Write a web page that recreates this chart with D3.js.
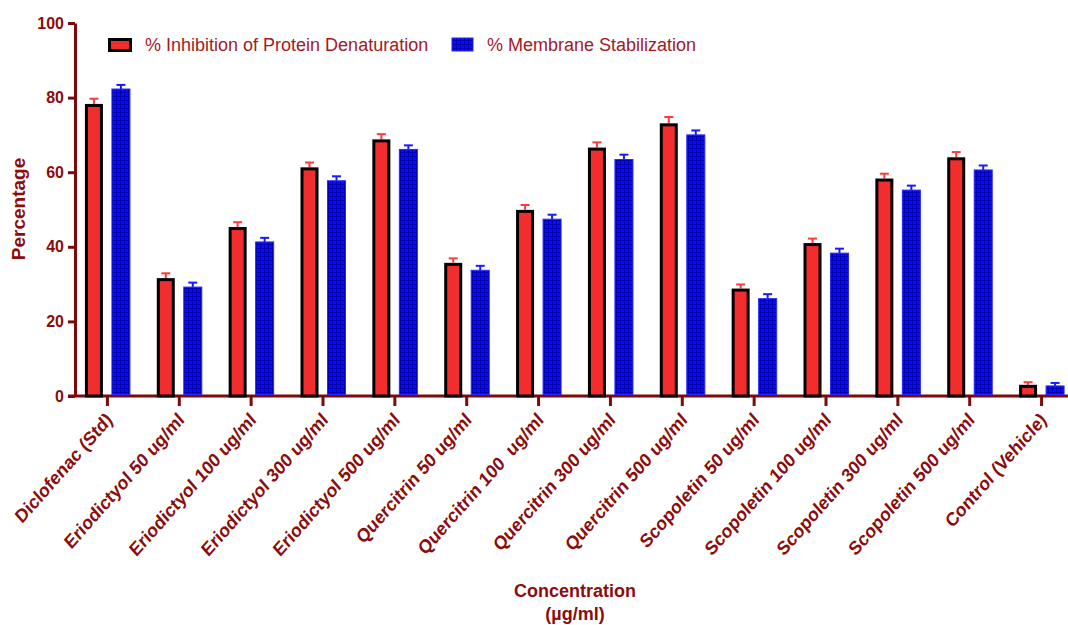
<!DOCTYPE html>
<html>
<head>
  <title>Protein Denaturation vs Membrane Stabilization</title>
  <style>
    body {
      margin: 0;
      padding: 0;
      background-color: #fff;
      font-family: "Liberation Sans", Arial, sans-serif;
    }
  </style>
</head>
<body>
  <div id="chart"></div>

  <script src="https://d3js.org/d3.v7.min.js"></script>
  <script>
    var categories = ["Diclofenac (Std)", "Eriodictyol 50 ug/ml", "Eriodictyol 100 ug/ml", "Eriodictyol 300 ug/ml",
      "Eriodictyol 500 ug/ml", "Quercitrin 50 ug/ml", "Quercitrin 100  ug/ml", "Quercitrin 300 ug/ml",
      "Quercitrin 500 ug/ml", "Scopoletin 50 ug/ml", "Scopoletin 100 ug/ml", "Scopoletin 300 ug/ml",
      "Scopoletin 500 ug/ml", "Control (Vehicle)"];
    var proteinDenat = [78.3, 31.6, 45.3, 61.3, 68.8, 35.7, 49.9, 66.6, 73.1, 28.8, 41.0, 58.3, 64.0, 3.0];
    var proteinErr = [1.4, 1.3, 1.3, 1.3, 1.4, 1.2, 1.3, 1.4, 1.7, 1.1, 1.2, 1.3, 1.4, 0.7];
    var membraneStab = [82.3, 29.2, 41.3, 57.7, 66.1, 33.7, 47.4, 63.4, 70.0, 26.1, 38.3, 55.2, 60.6, 2.7];
    var membraneErr = [1.1, 1.2, 1.1, 1.2, 1.1, 1.2, 1.2, 1.3, 1.2, 1.2, 1.2, 1.2, 1.2, 0.8];
    var yTicks = [0, 20, 40, 60, 80, 100];

    var width = 1068, height = 625;
    var darkRed = "#8b0c0c";
    var axisColor = "#7d0a0a";
    var font = "'Liberation Sans', Arial, sans-serif";

    var svg = d3.select("#chart")
      .append("svg")
      .attr("width", width)
      .attr("height", height);

    // blue grid pattern for membrane bars
    var pat = svg.append("defs").append("pattern")
      .attr("id", "bluegrid")
      .attr("patternUnits", "userSpaceOnUse")
      .attr("width", 4)
      .attr("height", 4);
    pat.append("rect").attr("width", 4).attr("height", 4).attr("fill", "#0a0aff");
    pat.append("path").attr("d", "M0,0.5H4M0.5,0V4").attr("stroke", "#0000b0").attr("stroke-width", 1);

    var x = d3.scaleBand()
      .domain(categories)
      .range([71.5, 1077.5])
      .padding(0);

    var y = d3.scaleLinear()
      .domain([0, 100])
      .range([396, 23]);

    // y axis
    var yAxis = svg.append("g")
      .attr("transform", "translate(75,0)")
      .call(d3.axisLeft(y).tickValues(yTicks).tickSize(7).tickSizeOuter(0).tickPadding(4));
    yAxis.select(".domain").attr("stroke", axisColor).attr("stroke-width", 3);
    yAxis.selectAll(".tick line").attr("stroke", axisColor).attr("stroke-width", 3);
    yAxis.selectAll(".tick text")
      .attr("fill", darkRed)
      .style("font-size", "16px")
      .style("font-weight", "bold")
      .style("font-family", font);

    // x axis
    var xAxis = svg.append("g")
      .attr("transform", "translate(0,396)")
      .call(d3.axisBottom(x).tickSize(10).tickSizeOuter(0).tickFormat(""));
    xAxis.select(".domain").attr("stroke", axisColor).attr("stroke-width", 3)
      .attr("d", "M68,0H1077");
    xAxis.selectAll(".tick line").attr("stroke", axisColor).attr("stroke-width", 3);

    // rotated category labels (slightly stretched like the original)
    svg.append("g").selectAll("text")
      .data(categories)
      .enter()
      .append("text")
      .attr("transform", function (d) {
        return "translate(" + (x(d) + x.bandwidth() / 2 + 6) + ",421) scale(1,1.13) rotate(-45)";
      })
      .attr("text-anchor", "end")
      .attr("fill", darkRed)
      .style("font-size", "17px")
      .style("font-weight", "bold")
      .style("font-family", font)
      .style("white-space", "pre")
      .text(function (d) { return d; });

    // bars
    var bars = svg.append("g");
    categories.forEach(function (c, i) {
      var cx = x(c) + x.bandwidth() / 2;
      // protein denaturation (red, black outline)
      var rx = cx - 21;
      var top = y(proteinDenat[i] + proteinErr[i]);
      bars.append("line")
        .attr("x1", rx + 7.5).attr("x2", rx + 7.5)
        .attr("y1", y(proteinDenat[i])).attr("y2", top)
        .attr("stroke", "#ff3a3a").attr("stroke-width", 2);
      bars.append("line")
        .attr("x1", rx + 3).attr("x2", rx + 12)
        .attr("y1", top).attr("y2", top)
        .attr("stroke", "#ff3a3a").attr("stroke-width", 2);
      bars.append("rect")
        .attr("x", rx)
        .attr("y", y(proteinDenat[i]) + 1.5)
        .attr("width", 15)
        .attr("height", y(0) - y(proteinDenat[i]) - 1.5)
        .attr("fill", "#f22d2d")
        .attr("stroke", "#000")
        .attr("stroke-width", 3);

      // membrane stabilization (blue grid)
      var bx = cx + 4.5;
      var btop = y(membraneStab[i] + membraneErr[i]);
      bars.append("line")
        .attr("x1", bx + 9).attr("x2", bx + 9)
        .attr("y1", y(membraneStab[i])).attr("y2", btop)
        .attr("stroke", "#1a1aff").attr("stroke-width", 2);
      bars.append("line")
        .attr("x1", bx + 4.5).attr("x2", bx + 13.5)
        .attr("y1", btop).attr("y2", btop)
        .attr("stroke", "#1a1aff").attr("stroke-width", 2);
      bars.append("rect")
        .attr("x", bx)
        .attr("y", y(membraneStab[i]))
        .attr("width", 18)
        .attr("height", y(0) - y(membraneStab[i]) - 1.5)
        .attr("fill", "url(#bluegrid)")
        .attr("stroke", "#2828ff")
        .attr("stroke-width", 1);
    });

    // axis titles
    svg.append("text")
      .attr("transform", "translate(25,209) rotate(-90)")
      .attr("text-anchor", "middle")
      .attr("fill", darkRed)
      .style("font-size", "19px")
      .style("font-weight", "bold")
      .style("font-family", font)
      .text("Percentage");

    svg.append("text")
      .attr("x", 575).attr("y", 597)
      .attr("text-anchor", "middle")
      .attr("fill", darkRed)
      .style("font-size", "18px")
      .style("font-weight", "bold")
      .style("font-family", font)
      .text("Concentration");

    svg.append("text")
      .attr("x", 575).attr("y", 620)
      .attr("text-anchor", "middle")
      .attr("fill", darkRed)
      .style("font-size", "18px")
      .style("font-weight", "bold")
      .style("font-family", font)
      .text("(\u00b5g/ml)");

    // legend
    var legend = svg.append("g");
    legend.append("rect")
      .attr("x", 109.5).attr("y", 39.5).attr("width", 21).attr("height", 11)
      .attr("fill", "#f22d2d").attr("stroke", "#000").attr("stroke-width", 3);
    legend.append("text")
      .attr("x", 145).attr("y", 51)
      .attr("fill", "#a3191f")
      .style("font-size", "18px")
      .style("font-family", font)
      .text("% Inhibition of Protein Denaturation");
    legend.append("rect")
      .attr("x", 452).attr("y", 38).attr("width", 21).attr("height", 13)
      .attr("fill", "url(#bluegrid)").attr("stroke", "#2828ff").attr("stroke-width", 1);
    legend.append("text")
      .attr("x", 487).attr("y", 51)
      .attr("fill", "#a3191f")
      .style("font-size", "18px")
      .style("font-family", font)
      .text("% Membrane Stabilization");
  </script>
</body>
</html>
